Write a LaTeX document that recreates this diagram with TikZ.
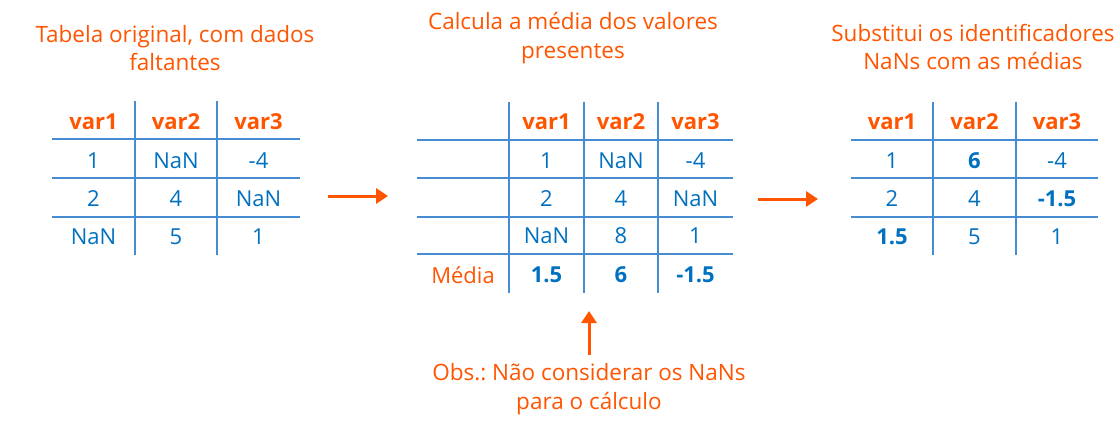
\documentclass[tikz,border=0pt]{standalone}
\usepackage{fontspec}
\setmainfont{Open Sans}
\usetikzlibrary{arrows.meta}
\frenchspacing
\definecolor{org}{RGB}{255,85,0}
\definecolor{txtblue}{RGB}{0,112,192}
\definecolor{lineblue}{RGB}{70,140,210}
\tikzset{
  ttl/.style={text=org, font=\fontsize{22.5}{28.5}\selectfont, align=center, inner sep=0pt},
  hdr/.style={text=org, font=\fontsize{22}{24}\selectfont\bfseries, inner sep=0pt},
  val/.style={text=txtblue, font=\fontsize{22}{24}\selectfont, inner sep=0pt},
  bval/.style={text=txtblue, font=\fontsize{22}{24}\selectfont\bfseries, inner sep=0pt},
  grid/.style={draw=lineblue, line width=1.2pt},
  bigarrow/.style={draw=org, line width=3pt, -{Triangle[length=12pt,width=15pt]}}
}
\begin{document}
\begin{tikzpicture}[x=1pt,y=-1pt]
\useasboundingbox[fill=white] (0,0) rectangle (1115,421);
% titles
\node[ttl] (t1) at (175,48) {Tabela original, com dados\\faltantes};
\node[ttl] (t2) at (573,38) {Calcula a média dos valores\\presentes};
\node[ttl] (t3) at (973,47) {Substitui os identificadores\\NaNs com as médias};
\node[ttl] (obs) at (589,389) {Obs.:\ Não considerar os NaNs\\para o cálculo};
% table 1
\draw[grid] (52,139) -- (300,139) (52,178) -- (300,178) (52,217) -- (300,217)
            (135,101) -- (135,255) (217,101) -- (217,255);
\node[hdr] (a01) at (93.5,122) {var1};
\node[hdr] (a02) at (176,122) {var2};
\node[hdr] (a03) at (258.5,122) {var3};
\node[val] (a11) at (93.5,161) {1};
\node[val] (a12) at (176,161) {NaN};
\node[val] (a13) at (258.5,161) {-4};
\node[val] (a21) at (93.5,199) {2};
\node[val] (a22) at (176,199) {4};
\node[val] (a23) at (258.5,199) {NaN};
\node[val] (a31) at (93.5,237) {NaN};
\node[val] (a32) at (176,237) {5};
\node[val] (a33) at (258.5,237) {1};
% table 2
\draw[grid] (417,140) -- (733,140) (417,178) -- (733,178) (417,217) -- (733,217) (417,254) -- (733,254)
            (509,102) -- (509,293) (584,102) -- (584,293) (658,102) -- (658,293);
\node[hdr] (b01) at (546.5,122) {var1};
\node[hdr] (b02) at (621,122) {var2};
\node[hdr] (b03) at (695.5,122) {var3};
\node[val] (b11) at (546.5,161) {1};
\node[val] (b12) at (621,161) {NaN};
\node[val] (b13) at (695.5,161) {-4};
\node[val] (b21) at (546.5,199) {2};
\node[val] (b22) at (621,199) {4};
\node[val] (b23) at (695.5,199) {NaN};
\node[val] (b31) at (546.5,236) {NaN};
\node[val] (b32) at (621,236) {8};
\node[val] (b33) at (695.5,236) {1};
\node[text=org, font=\fontsize{22}{24}\selectfont, inner sep=0pt] (b40) at (463,275) {Média};
\node[bval] (b41) at (546.5,275) {1.5};
\node[bval] (b42) at (621,275) {6};
\node[bval] (b43) at (695.5,275) {-1.5};
% table 3
\draw[grid] (851,140) -- (1098,140) (851,178) -- (1098,178) (851,217) -- (1098,217)
            (933,102) -- (933,255) (1016,102) -- (1016,255);
\node[hdr] (c01) at (892,122) {var1};
\node[hdr] (c02) at (974.5,122) {var2};
\node[hdr] (c03) at (1057,122) {var3};
\node[val] (c11) at (892,161) {1};
\node[bval] (c12) at (974.5,161) {6};
\node[val] (c13) at (1057,161) {-4};
\node[val] (c21) at (892,199) {2};
\node[val] (c22) at (974.5,199) {4};
\node[bval] (c23) at (1057,199) {-1.5};
\node[bval] (c31) at (892,237) {1.5};
\node[val] (c32) at (974.5,237) {5};
\node[val] (c33) at (1057,237) {1};
% arrows
\coordinate (p1s) at (328,196);
\coordinate (p1e) at (388,196);
\coordinate (p2s) at (758,199);
\coordinate (p2e) at (818,199);
\coordinate (p3s) at (589,355);
\coordinate (p3e) at (589,311);
\draw[bigarrow] (p1s) -- (p1e);
\draw[bigarrow] (p2s) -- (p2e);
\draw[bigarrow] (p3s) -- (p3e);
\end{tikzpicture}
\end{document}
